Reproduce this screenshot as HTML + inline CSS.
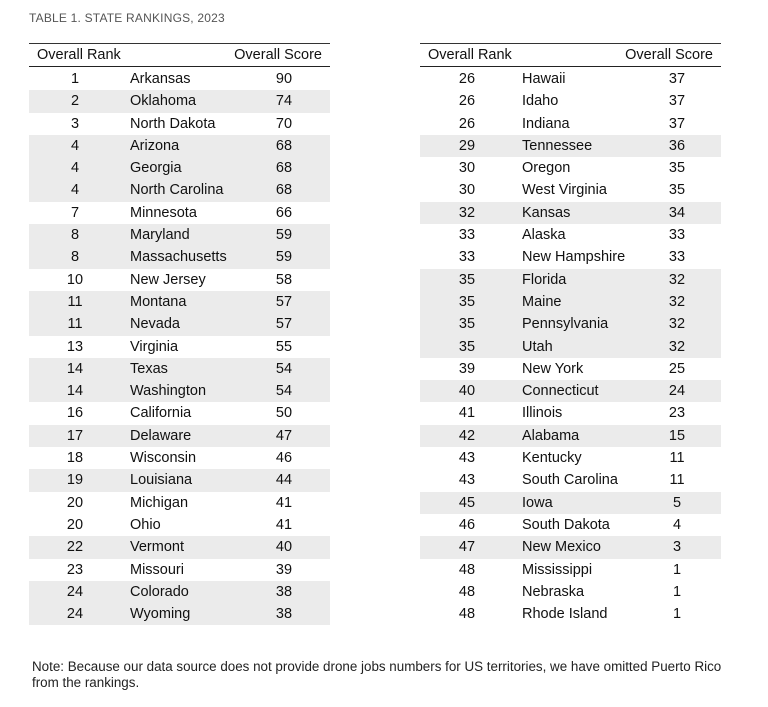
<!DOCTYPE html>
<html><head><meta charset="utf-8"><style>
body{margin:0;width:768px;height:707px;background:#fff;font-family:"Liberation Sans",sans-serif;color:#111;position:relative;overflow:hidden}
.title{position:absolute;left:29px;top:11px;font-size:12px;color:#555;letter-spacing:0.2px}
.tbl{position:absolute;top:43px;width:301px;border-top:1px solid #333}
.hd{height:22px;border-bottom:1.5px solid #222;position:relative;font-size:14.5px}
.hd span{position:absolute;top:3px}
.rows{position:absolute;top:24px;left:0;width:301px}
.r{height:22.3px;position:relative;font-size:14.5px}
.r.g{background:#ebebeb}
.r span{position:absolute;top:3px}
.a{width:40px;text-align:center}
.c{width:40px;text-align:center}
.note{position:absolute;left:32px;top:659px;font-size:13.4px;color:#222;line-height:16px;white-space:nowrap}
</style></head><body>
<div class="title">TABLE 1. STATE RANKINGS, 2023</div>

<div class="tbl" style="left:29px">
<div class="hd"><span style="left:8px">Overall Rank</span><span style="right:8px">Overall Score</span></div>
<div class="rows">
<div class="r"><span class="a" style="left:26px">1</span><span style="left:101px">Arkansas</span><span class="c" style="left:235px">90</span></div>
<div class="r g"><span class="a" style="left:26px">2</span><span style="left:101px">Oklahoma</span><span class="c" style="left:235px">74</span></div>
<div class="r"><span class="a" style="left:26px">3</span><span style="left:101px">North Dakota</span><span class="c" style="left:235px">70</span></div>
<div class="r g"><span class="a" style="left:26px">4</span><span style="left:101px">Arizona</span><span class="c" style="left:235px">68</span></div>
<div class="r g"><span class="a" style="left:26px">4</span><span style="left:101px">Georgia</span><span class="c" style="left:235px">68</span></div>
<div class="r g"><span class="a" style="left:26px">4</span><span style="left:101px">North Carolina</span><span class="c" style="left:235px">68</span></div>
<div class="r"><span class="a" style="left:26px">7</span><span style="left:101px">Minnesota</span><span class="c" style="left:235px">66</span></div>
<div class="r g"><span class="a" style="left:26px">8</span><span style="left:101px">Maryland</span><span class="c" style="left:235px">59</span></div>
<div class="r g"><span class="a" style="left:26px">8</span><span style="left:101px">Massachusetts</span><span class="c" style="left:235px">59</span></div>
<div class="r"><span class="a" style="left:26px">10</span><span style="left:101px">New Jersey</span><span class="c" style="left:235px">58</span></div>
<div class="r g"><span class="a" style="left:26px">11</span><span style="left:101px">Montana</span><span class="c" style="left:235px">57</span></div>
<div class="r g"><span class="a" style="left:26px">11</span><span style="left:101px">Nevada</span><span class="c" style="left:235px">57</span></div>
<div class="r"><span class="a" style="left:26px">13</span><span style="left:101px">Virginia</span><span class="c" style="left:235px">55</span></div>
<div class="r g"><span class="a" style="left:26px">14</span><span style="left:101px">Texas</span><span class="c" style="left:235px">54</span></div>
<div class="r g"><span class="a" style="left:26px">14</span><span style="left:101px">Washington</span><span class="c" style="left:235px">54</span></div>
<div class="r"><span class="a" style="left:26px">16</span><span style="left:101px">California</span><span class="c" style="left:235px">50</span></div>
<div class="r g"><span class="a" style="left:26px">17</span><span style="left:101px">Delaware</span><span class="c" style="left:235px">47</span></div>
<div class="r"><span class="a" style="left:26px">18</span><span style="left:101px">Wisconsin</span><span class="c" style="left:235px">46</span></div>
<div class="r g"><span class="a" style="left:26px">19</span><span style="left:101px">Louisiana</span><span class="c" style="left:235px">44</span></div>
<div class="r"><span class="a" style="left:26px">20</span><span style="left:101px">Michigan</span><span class="c" style="left:235px">41</span></div>
<div class="r"><span class="a" style="left:26px">20</span><span style="left:101px">Ohio</span><span class="c" style="left:235px">41</span></div>
<div class="r g"><span class="a" style="left:26px">22</span><span style="left:101px">Vermont</span><span class="c" style="left:235px">40</span></div>
<div class="r"><span class="a" style="left:26px">23</span><span style="left:101px">Missouri</span><span class="c" style="left:235px">39</span></div>
<div class="r g"><span class="a" style="left:26px">24</span><span style="left:101px">Colorado</span><span class="c" style="left:235px">38</span></div>
<div class="r g"><span class="a" style="left:26px">24</span><span style="left:101px">Wyoming</span><span class="c" style="left:235px">38</span></div>
</div></div>

<div class="tbl" style="left:420px">
<div class="hd"><span style="left:8px">Overall Rank</span><span style="right:8px">Overall Score</span></div>
<div class="rows">
<div class="r"><span class="a" style="left:27px">26</span><span style="left:102px">Hawaii</span><span class="c" style="left:237px">37</span></div>
<div class="r"><span class="a" style="left:27px">26</span><span style="left:102px">Idaho</span><span class="c" style="left:237px">37</span></div>
<div class="r"><span class="a" style="left:27px">26</span><span style="left:102px">Indiana</span><span class="c" style="left:237px">37</span></div>
<div class="r g"><span class="a" style="left:27px">29</span><span style="left:102px">Tennessee</span><span class="c" style="left:237px">36</span></div>
<div class="r"><span class="a" style="left:27px">30</span><span style="left:102px">Oregon</span><span class="c" style="left:237px">35</span></div>
<div class="r"><span class="a" style="left:27px">30</span><span style="left:102px">West Virginia</span><span class="c" style="left:237px">35</span></div>
<div class="r g"><span class="a" style="left:27px">32</span><span style="left:102px">Kansas</span><span class="c" style="left:237px">34</span></div>
<div class="r"><span class="a" style="left:27px">33</span><span style="left:102px">Alaska</span><span class="c" style="left:237px">33</span></div>
<div class="r"><span class="a" style="left:27px">33</span><span style="left:102px">New Hampshire</span><span class="c" style="left:237px">33</span></div>
<div class="r g"><span class="a" style="left:27px">35</span><span style="left:102px">Florida</span><span class="c" style="left:237px">32</span></div>
<div class="r g"><span class="a" style="left:27px">35</span><span style="left:102px">Maine</span><span class="c" style="left:237px">32</span></div>
<div class="r g"><span class="a" style="left:27px">35</span><span style="left:102px">Pennsylvania</span><span class="c" style="left:237px">32</span></div>
<div class="r g"><span class="a" style="left:27px">35</span><span style="left:102px">Utah</span><span class="c" style="left:237px">32</span></div>
<div class="r"><span class="a" style="left:27px">39</span><span style="left:102px">New York</span><span class="c" style="left:237px">25</span></div>
<div class="r g"><span class="a" style="left:27px">40</span><span style="left:102px">Connecticut</span><span class="c" style="left:237px">24</span></div>
<div class="r"><span class="a" style="left:27px">41</span><span style="left:102px">Illinois</span><span class="c" style="left:237px">23</span></div>
<div class="r g"><span class="a" style="left:27px">42</span><span style="left:102px">Alabama</span><span class="c" style="left:237px">15</span></div>
<div class="r"><span class="a" style="left:27px">43</span><span style="left:102px">Kentucky</span><span class="c" style="left:237px">11</span></div>
<div class="r"><span class="a" style="left:27px">43</span><span style="left:102px">South Carolina</span><span class="c" style="left:237px">11</span></div>
<div class="r g"><span class="a" style="left:27px">45</span><span style="left:102px">Iowa</span><span class="c" style="left:237px">5</span></div>
<div class="r"><span class="a" style="left:27px">46</span><span style="left:102px">South Dakota</span><span class="c" style="left:237px">4</span></div>
<div class="r g"><span class="a" style="left:27px">47</span><span style="left:102px">New Mexico</span><span class="c" style="left:237px">3</span></div>
<div class="r"><span class="a" style="left:27px">48</span><span style="left:102px">Mississippi</span><span class="c" style="left:237px">1</span></div>
<div class="r"><span class="a" style="left:27px">48</span><span style="left:102px">Nebraska</span><span class="c" style="left:237px">1</span></div>
<div class="r"><span class="a" style="left:27px">48</span><span style="left:102px">Rhode Island</span><span class="c" style="left:237px">1</span></div>
</div></div>

<div class="note">Note: Because our data source does not provide drone jobs numbers for US territories, we have omitted Puerto Rico<br>from the rankings.</div>
</body></html>
